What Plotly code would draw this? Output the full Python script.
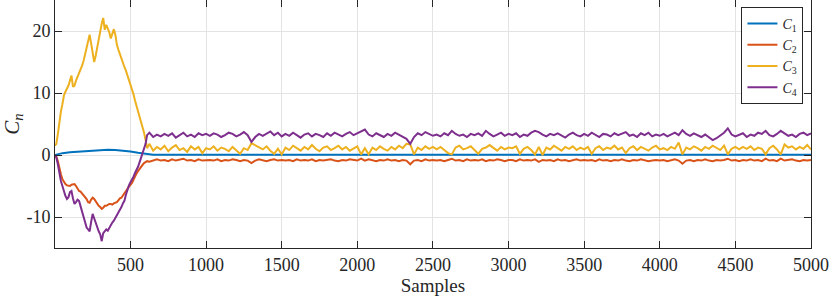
import numpy as np
import plotly.graph_objects as go

# ---------------- data ----------------
# transient part: samples 0..610 step 10 ; steady part: samples 625..5000 step 25
x_trans = list(range(0, 611, 10))
x_steady = list(range(625, 5001, 25))

C1_x = [0, 50, 100, 150, 200, 250, 300, 350, 400, 450, 500, 550, 600, 650, 700,
        1000, 1500, 2000, 2500, 3000, 3500, 4000, 4500, 5000]
C1_y = [0.0, 0.3, 0.45, 0.55, 0.65, 0.75, 0.85, 0.85, 0.8, 0.7, 0.55, 0.35, 0.15, 0.06, 0.05,
        0.05, 0.05, 0.05, 0.05, 0.05, 0.05, 0.05, 0.05, 0.05]

C2_trans = [0, -0.3, -1.0, -2.2, -3.1, -3.9, -4.4, -4.7, -4.9, -5.0, -5.0, -4.8, -4.7, -4.7,
            -5.0, -5.4, -5.8, -5.9, -6.2, -6.5, -6.7, -7.1, -7.6, -7.7, -7.2, -6.9, -7.1,
            -7.5, -7.9, -8.2, -8.4, -8.7, -8.5, -8.2, -8.2, -8.0, -7.9, -7.9, -8.0, -7.8,
            -7.7, -7.6, -7.3, -7.0, -6.9, -6.5, -6.2, -5.8, -5.5, -5.1, -4.8, -4.5, -4.0,
            -3.4, -3.0, -2.6, -2.2, -1.9, -1.6, -1.3, -1.1, -1.0]
C2_steady = [
    -1.1, -0.9, -0.7, -0.9, -0.8, -1.0, -0.7, -0.9, -0.8, -0.6, -0.9, -0.8, -1.0, -0.7, -0.9, -0.8,
    -0.8, -0.9, -0.7, -1.0, -0.8, -0.9, -0.7, -0.8, -1.0, -0.8, -0.9, -1.3, -0.9, -0.7, -0.8, -1.0, -0.8, -0.7, -0.9, -0.8,
    -0.9, -0.8, -1.0, -0.7, -0.9, -0.8, -0.9, -0.7, -1.0, -0.8, -0.9, -0.8, -0.7, -0.9, -1.0, -0.8, -0.9, -0.7, -0.8, -0.9,
    -0.6, -0.9, -0.7, -0.8, -1.0, -0.8, -0.9, -0.7, -0.9, -0.8, -1.0, -0.8, -0.9, -1.5, -0.9, -0.8, -1.0, -0.7, -0.9, -0.8,
    -0.9, -0.8, -1.0, -0.8, -0.6, -0.9, -0.8, -1.0, -0.7, -0.9, -0.8, -0.9, -0.7, -1.0, -0.8, -0.9, -0.7, -0.8, -1.0, -0.8,
    -0.8, -1.0, -0.7, -0.9, -0.8, -0.9, -0.7, -1.1, -0.8, -0.9, -0.8, -1.0, -0.7, -0.9, -0.8, -1.0, -0.8, -0.7, -0.9, -0.8,
    -0.9, -0.8, -1.0, -0.7, -0.9, -0.8, -1.0, -0.8, -0.9, -0.7, -0.9, -1.0, -0.8, -0.9, -0.7, -0.8, -1.0, -0.9, -0.8, -0.9,
    -0.8, -1.0, -0.9, -0.7, -0.9, -1.4, -0.9, -0.8, -1.0, -0.8, -0.9, -0.7, -0.9, -1.0, -0.8, -0.9, -0.8, -0.6, -0.9, -0.8,
    -1.0, -0.8, -0.9, -0.7, -0.9, -0.8, -1.0, -0.6, -0.9, -0.8, -1.0, -0.6, -0.9, -0.8, -0.7, -0.9, -1.0, -0.8, -0.9, -0.8]

C3_trans = [1.5, 1.8, 3.4, 5.6, 7.0, 8.2, 9.6, 10.2, 10.6, 11.2, 12.0, 12.8, 11.0, 11.2,
            12.0, 12.6, 13.0, 13.8, 14.4, 15.2, 16.2, 17.2, 18.6, 19.4, 18.0, 16.6, 15.0,
            16.0, 17.4, 18.8, 20.4, 21.2, 22.1, 20.2, 21.0, 20.4, 19.8, 18.8, 19.6, 20.3,
            19.4, 17.8, 17.0, 16.2, 15.6, 15.0, 14.2, 13.6, 12.9, 12.2, 11.4, 10.6, 9.8,
            8.8, 8.0, 7.2, 6.3, 5.5, 4.6, 3.6, 2.4, 1.1]
C3_steady = [
    1.8, 0.7, 1.3, 0.9, 1.5, 0.6, 1.2, 1.6, 0.8, 1.1, 0.5, 1.4, 0.9, 1.3, 0.3, 1.1,
    0.9, 1.4, 0.7, 1.2, 1.0, 0.6, 1.3, 0.8, 0.2, 1.1, 0.8, 1.9, 1.6, 1.2, 0.9, 1.4, 0.7, 0.2, 1.0, 0.1,
    1.2, 0.8, 1.5, 1.1, 0.7, 1.3, 0.9, 1.6, 1.0, 0.6, 1.2, 1.4, 0.8, 1.1, 1.5, 0.9, 1.3, 0.7, 1.0, 1.4,
    0.1, 1.1, 0.1, 1.2, 0.8, 1.4, 1.0, 0.7, 1.3, 0.9, 1.5, 1.1, 1.8, 1.7, 0.1, 1.2, 0.8, 1.4, 1.0, 1.3,
    0.9, 1.3, 0.8, 0.3, 0.1, 1.2, 1.5, 0.9, 1.1, 1.4, 0.8, 0.2, 1.0, 1.2, 1.6, 1.1, 0.7, 1.3, 0.9, 1.2,
    1.1, 1.4, 0.2, 1.0, 1.3, 0.8, 0.1, 1.3, 0.0, 1.2, 0.9, 1.5, 1.1, 0.7, 1.3, 1.0, 1.4, 0.8, 1.2, 0.9,
    1.3, 0.2, 1.1, 1.4, 0.8, 1.2, 1.0, 1.5, 0.9, 1.2, 0.3, 1.1, 1.4, 0.8, 1.3, 1.0, 0.7, 1.2, 1.5, 0.9,
    1.1, 0.8, 1.3, 1.0, 2.0, 0.1, 1.2, 0.9, 1.4, 1.1, 0.7, 1.3, 1.0, 1.5, 1.2, 0.8, 1.5, 0.1, 1.0, 1.3,
    0.9, 1.3, 1.0, 1.4, 0.8, 1.2, 1.0, 0.1, 1.1, 1.5, 0.9, 0.1, 1.7, 1.2, 1.4, 0.9, 1.3, 1.0, 1.6, 0.9]

C4_trans = [0, -0.4, -1.5, -3.0, -4.2, -5.0, -6.0, -6.6, -7.1, -6.8, -6.0, -5.8, -7.0, -7.9,
            -7.6, -7.2, -7.4, -8.2, -9.2, -9.8, -11.0, -11.7, -12.0, -12.3, -10.8, -9.5,
            -10.2, -11.0, -11.6, -12.3, -12.8, -13.9, -12.6, -12.3, -12.0, -12.2, -11.7,
            -11.4, -10.9, -10.6, -10.2, -9.8, -9.2, -8.9, -8.4, -7.8, -7.4, -6.4, -5.5,
            -4.9, -4.4, -4.0, -3.5, -2.9, -2.5, -1.9, -1.2, -0.5, 0.2, 0.9, 1.8, 3.2]
C4_steady = [
    3.6, 2.9, 3.3, 3.0, 3.4, 3.1, 3.5, 2.8, 3.2, 3.6, 3.0, 3.3, 2.9, 3.5, 3.2, 3.4,
    3.1, 3.5, 3.3, 2.9, 3.2, 3.6, 3.4, 3.0, 3.3, 3.7, 3.2, 2.1, 2.9, 3.4, 3.1, 3.5, 3.8, 3.2, 3.6, 3.0,
    3.4, 3.1, 3.6, 3.2, 2.8, 3.3, 3.5, 3.0, 3.4, 3.2, 2.9, 3.5, 3.1, 3.6, 3.3, 3.0, 3.4, 3.7, 3.2, 3.5,
    3.7, 4.1, 3.3, 3.0, 3.5, 3.2, 2.9, 3.4, 3.1, 3.6, 3.3, 3.0, 2.6, 1.8, 2.9, 3.5, 3.2, 3.7, 3.4, 3.1,
    3.3, 3.0, 3.5, 3.2, 3.9, 3.4, 3.1, 3.3, 2.9, 3.4, 3.2, 3.5, 3.1, 3.9, 3.4, 3.0, 3.3, 3.6, 3.1, 3.4,
    3.2, 3.5, 2.9, 3.3, 3.1, 3.6, 3.9, 3.7, 3.3, 3.0, 3.4, 3.2, 3.5, 3.1, 2.8, 3.3, 3.6, 3.2, 3.0, 3.4,
    3.1, 3.6, 3.2, 2.9, 3.4, 3.3, 3.0, 3.5, 3.2, 3.4, 3.7, 3.1, 3.3, 2.9, 3.5, 3.2, 3.6, 3.0, 3.3, 3.1,
    3.4, 3.0, 3.3, 3.6, 3.2, 4.0, 3.4, 3.1, 3.5, 3.2, 2.9, 3.3, 2.8, 2.4, 2.7, 3.1, 3.6, 4.3, 3.3, 3.0,
    3.2, 3.5, 2.9, 3.3, 3.1, 3.6, 3.4, 3.9, 3.2, 3.0, 3.4, 3.9, 3.5, 3.1, 3.3, 2.9, 3.4, 3.6, 3.2, 3.5]

names = ["<i>C</i><sub>1</sub>", "<i>C</i><sub>2</sub>", "<i>C</i><sub>3</sub>", "<i>C</i><sub>4</sub>"]
colors = ["#0072BD", "#D95319", "#EDB120", "#7E2F8E"]
x_ticks = [500, 1000, 1500, 2000, 2500, 3000, 3500, 4000, 4500, 5000]
x_ticklabels = ["500", "1000", "1500", "2000", "2500", "3000", "3500", "4000", "4500", "5000"]
y_ticks = [-10, 0, 10, 20]
y_ticklabels = ["-10", "0", "10", "20"]

# ---------------- figure ----------------
FONT = "Liberation Serif"
x_full = x_trans + x_steady
series = [
    (C1_x, C1_y),
    (x_full, C2_trans + C2_steady),
    (x_full, C3_trans + C3_steady),
    (x_full, C4_trans + C4_steady),
]

fig = go.Figure()
for (xs, ys), nm, col in zip(series, names, colors):
    fig.add_trace(go.Scatter(x=xs, y=ys, mode="lines", name=nm,
                             line=dict(color=col, width=2)))

axis_common = dict(showgrid=True, gridcolor="#e3e3e3", gridwidth=1, zeroline=False,
                   showline=True, linecolor="#262626", linewidth=1, mirror="ticks",
                   ticks="inside", ticklen=7, tickcolor="#262626",
                   tickfont=dict(family=FONT, size=18, color="#262626"))

fig.update_layout(
    width=830, height=300,
    margin=dict(l=55, r=19, t=0, b=52),
    paper_bgcolor="white", plot_bgcolor="white",
    font=dict(family=FONT, color="#262626"),
    xaxis=dict(range=[1, 5000], tickvals=x_ticks, ticktext=x_ticklabels, **axis_common,
               title=dict(text="Samples", font=dict(family=FONT, size=19), standoff=2)),
    yaxis=dict(range=[-15, 25], tickvals=y_ticks, ticktext=y_ticklabels, **axis_common,
               title=dict(text="<i>C</i><sub><i>n</i></sub>", font=dict(family=FONT, size=21), standoff=8)),
    legend=dict(x=0.99, y=0.972, xanchor="right", yanchor="top",
                bgcolor="white", bordercolor="#262626", borderwidth=1,
                font=dict(family=FONT, size=14, color="#262626"),
                tracegroupgap=0, itemwidth=30),
    showlegend=True,
)

fig.write_html("out.html", config={"displayModeBar": False},
               post_script="document.body.style.margin='0px';window.dispatchEvent(new Event('resize'));")
